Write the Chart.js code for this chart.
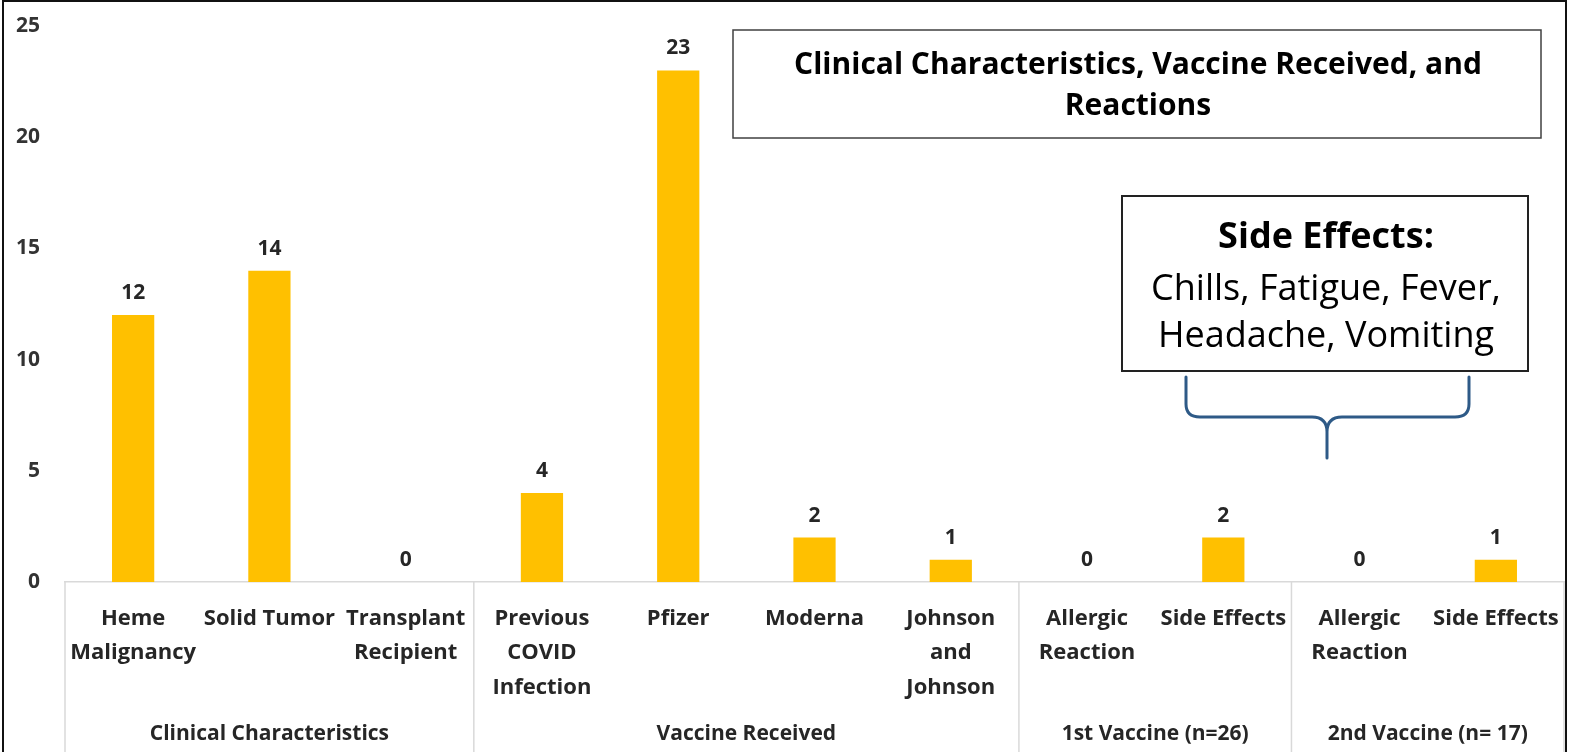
<!DOCTYPE html>
<html>
<head>
<meta charset="utf-8">
<script src="https://cdn.jsdelivr.net/npm/chart.js@4.4.0/dist/chart.umd.min.js"></script>
<style>
  html, body { margin: 0; padding: 0; background: #fff; }
  #wrap { width: 1572px; height: 752px; position: relative; }
</style>
</head>
<body>
<div id="wrap"><canvas id="chart"></canvas></div>
<script>
// data
const categories = [
    ['Heme', 'Malignancy'], 'Solid Tumor', ['Transplant', 'Recipient'],
    ['Previous', 'COVID', 'Infection'], 'Pfizer', 'Moderna', ['Johnson', 'and', 'Johnson'],
    ['Allergic', 'Reaction'], 'Side Effects',
    ['Allergic', 'Reaction'], 'Side Effects'
]
const counts = [12, 14, 0, 4, 23, 2, 1, 0, 2, 0, 1]
const groupNames = ['Clinical Characteristics', 'Vaccine Received', '1st Vaccine (n=26)', '2nd Vaccine (n= 17)']
const groupSizes = [3, 4, 2, 2]
const yTicks = [0, 5, 10, 15, 20, 25]
const titleLines = ['Clinical Characteristics, Vaccine Received, and', 'Reactions']
const noteHead = 'Side Effects:'
const noteLines = ['Chills, Fatigue, Fever,', 'Headache, Vomiting']

const FONT = "'Open Sans', 'Liberation Sans', sans-serif"
const AXIS_GREY = '#d9d9d9'

// numbers above each bar (zeros too)
const valueLabels = {
    id: 'valueLabels',
    afterDatasetsDraw(chart) {
        const ctx = chart.ctx
        const meta = chart.getDatasetMeta(0)
        ctx.save()
        ctx.font = 'bold 21px ' + FONT
        ctx.fillStyle = '#262626'
        ctx.textAlign = 'center'
        ctx.textBaseline = 'middle'
        meta.data.forEach((bar, i) => {
            ctx.fillText(String(counts[i]), bar.x, bar.y - 22)
        })
        ctx.restore()
    }
}

// category box lines + group names under the x axis
const groupAxis = {
    id: 'groupAxis',
    afterDraw(chart) {
        const ctx = chart.ctx
        const area = chart.chartArea
        const step = (area.right - area.left) / categories.length
        const bottom = chart.height
        ctx.save()
        ctx.strokeStyle = AXIS_GREY
        ctx.lineWidth = 1.5
        let start = 0
        const edges = [area.left]
        groupSizes.forEach(n => { start += n; edges.push(area.left + start * step) })
        edges.forEach(px => {
            ctx.beginPath()
            ctx.moveTo(px, area.bottom)
            ctx.lineTo(px, bottom)
            ctx.stroke()
        })
        ctx.font = 'bold 21px ' + FONT
        ctx.fillStyle = '#262626'
        ctx.textAlign = 'center'
        ctx.textBaseline = 'middle'
        groupNames.forEach((name, i) => {
            ctx.fillText(name, (edges[i] + edges[i + 1]) / 2, 734)
        })
        ctx.restore()
    }
}

// squeeze a line of text into a given width (title font looks condensed)
function fitText(ctx, text, cx, cy, width) {
    const w = ctx.measureText(text).width
    const k = Math.min(1, width / w)
    ctx.save()
    ctx.translate(cx, cy)
    ctx.scale(k, 1)
    ctx.fillText(text, 0, 0)
    ctx.restore()
}

// title box, side-effects note, brace, outer frame
const annotations = {
    id: 'annotations',
    afterDraw(chart) {
        const ctx = chart.ctx
        ctx.save()
        // title box
        ctx.fillStyle = '#fff'
        ctx.fillRect(733, 30, 808, 108)
        ctx.strokeStyle = '#404040'
        ctx.lineWidth = 1.5
        ctx.strokeRect(733, 30, 808, 108)
        ctx.fillStyle = '#000'
        ctx.textAlign = 'center'
        ctx.textBaseline = 'middle'
        ctx.font = 'bold 30px ' + FONT
        fitText(ctx, titleLines[0], 1138, 65, 702)
        const k = 702 / ctx.measureText(titleLines[0]).width
        fitText(ctx, titleLines[1], 1138, 106, ctx.measureText(titleLines[1]).width * k)

        // note box
        ctx.fillStyle = '#fff'
        ctx.fillRect(1122, 196, 406, 175)
        ctx.strokeStyle = '#222'
        ctx.lineWidth = 2
        ctx.strokeRect(1122, 196, 406, 175)
        ctx.fillStyle = '#000'
        ctx.font = 'bold 36px ' + FONT
        ctx.fillText(noteHead, 1326, 238)
        ctx.font = '36px ' + FONT
        ctx.fillText(noteLines[0], 1326, 290)
        ctx.fillText(noteLines[1], 1326, 337)

        // curly brace
        ctx.strokeStyle = '#2e5a87'
        ctx.lineWidth = 3
        ctx.lineCap = 'round'
        ctx.beginPath()
        ctx.moveTo(1186, 377)
        ctx.lineTo(1186, 404)
        ctx.quadraticCurveTo(1186, 417, 1200, 417)
        ctx.lineTo(1312, 417)
        ctx.quadraticCurveTo(1327, 417, 1327, 432)
        ctx.lineTo(1327, 458)
        ctx.moveTo(1469, 377)
        ctx.lineTo(1469, 404)
        ctx.quadraticCurveTo(1469, 417, 1455, 417)
        ctx.lineTo(1342, 417)
        ctx.quadraticCurveTo(1327, 417, 1327, 432)
        ctx.stroke()

        // outer frame
        ctx.strokeStyle = '#111'
        ctx.lineWidth = 2
        ctx.strokeRect(3, 1, 1563, 800)
        ctx.restore()
    }
}

const data = {
    labels: categories,
    datasets: [{
        data: counts,
        backgroundColor: '#ffc000',
        borderWidth: 0,
        categoryPercentage: 1,
        barPercentage: 0.31
    }]
}

const config = {
    type: 'bar',
    data: data,
    options: {
        responsive: true,
        maintainAspectRatio: false,
        animation: false,
        layout: { padding: { top: 26, right: 8, left: 0, bottom: 0 } },
        plugins: {
            legend: { display: false },
            tooltip: { enabled: false }
        },
        scales: {
            x: {
                grid: { display: false, drawTicks: false },
                border: { display: true, color: AXIS_GREY, width: 1.5 },
                ticks: {
                    autoSkip: false,
                    maxRotation: 0,
                    minRotation: 0,
                    padding: 20,
                    color: '#262626',
                    font: { family: FONT, size: 22, weight: 'bold', lineHeight: 1.55 }
                },
                afterFit(scale) {
                    scale.height = 170
                    scale.paddingLeft = 0
                    scale.paddingRight = 0
                }
            },
            y: {
                min: yTicks[0],
                max: yTicks[yTicks.length - 1],
                afterBuildTicks(scale) { scale.ticks = yTicks.map(v => ({ value: v })) },
                grid: { display: false, drawTicks: false },
                border: { display: false },
                ticks: {
                    padding: 25,
                    color: '#333',
                    font: { family: FONT, size: 21, weight: 'bold' }
                },
                afterFit(scale) {
                    scale.width = 65
                    scale.paddingTop = 0
                    scale.paddingBottom = 0
                }
            }
        }
    },
    plugins: [valueLabels, groupAxis, annotations]
}

// Render the chart
const ctx = document.getElementById('chart').getContext('2d')
new Chart(ctx, config)
</script>
</body>
</html>
